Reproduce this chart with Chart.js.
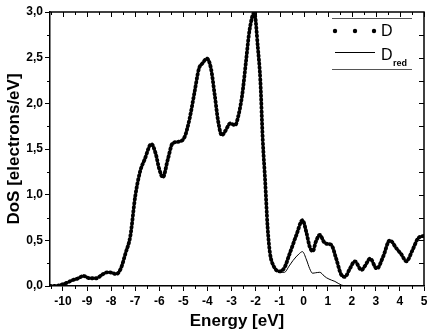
<!DOCTYPE html>
<html>
<head>
<meta charset="utf-8">
<script src="https://cdn.jsdelivr.net/npm/chart.js@4.4.0/dist/chart.umd.min.js"></script>
<style>
  html, body { margin: 0; padding: 0; background: #fff; }
  #wrap { width: 436px; height: 332px; position: relative; }
</style>
</head>
<body>
<div id="wrap"><canvas id="dosChart" width="436" height="332"></canvas></div>
<script>
// ---- data ----
const energyD = [-10.54, -10.2, -10.0, -9.8, -9.6, -9.4, -9.15, -8.9, -8.6, -8.4, -8.15, -7.95, -7.8, -7.6, -7.4, -7.2, -7.0,
  -6.8, -6.6, -6.33, -6.15, -6.0, -5.85, -5.65, -5.45, -5.2, -4.95, -4.75, -4.55, -4.35, -4.2, -4.02, -3.85, -3.7, -3.55,
  -3.4, -3.25, -3.05, -2.85, -2.7, -2.55, -2.4, -2.25, -2.05, -1.9, -1.8, -1.7, -1.6, -1.5, -1.4, -1.25, -1.0,
  -0.8, -0.6, -0.3, -0.05, 0.12, 0.25, 0.38, 0.5, 0.67, 0.85, 1.0, 1.15, 1.35, 1.55, 1.72, 1.9, 2.13, 2.4, 2.55, 2.76,
  3.04, 3.3, 3.58, 3.86, 4.05, 4.27, 4.5, 4.75, 5.0];
const dosD = [0.0, 0.005, 0.02, 0.04, 0.065, 0.08, 0.11, 0.085, 0.085, 0.12, 0.15, 0.145, 0.13, 0.19, 0.36, 0.55, 0.98,
  1.25, 1.39, 1.555, 1.45, 1.28, 1.19, 1.38, 1.56, 1.58, 1.63, 1.82, 2.1, 2.38, 2.44, 2.49, 2.38, 2.1, 1.8,
  1.65, 1.7, 1.78, 1.76, 1.88, 2.1, 2.45, 2.8, 2.99, 2.6, 2.25, 1.6, 1.15, 0.65, 0.36, 0.22, 0.16,
  0.2, 0.34, 0.56, 0.72, 0.58, 0.43, 0.38, 0.48, 0.56, 0.48, 0.46, 0.45, 0.3, 0.13, 0.1, 0.18, 0.27, 0.175, 0.22, 0.3,
  0.19, 0.32, 0.5, 0.41, 0.35, 0.27, 0.38, 0.52, 0.55];

// D_red is the same as D up to -1 eV, then its own tail
const splitIdx = energyD.indexOf(-1.0);
const energyRedTail = [-0.8, -0.6, -0.44, -0.2, -0.05, 0.12, 0.25, 0.37, 0.5, 0.67, 0.85, 0.95, 1.15, 1.3, 1.57, 1.8, 4.0];
const dosRedTail = [0.15, 0.22, 0.28, 0.35, 0.376, 0.285, 0.19, 0.14, 0.145, 0.15, 0.11, 0.09, 0.065, 0.05, 0.01, 0.0, 0.0];
const energyRed = energyD.slice(0, splitIdx + 1).concat(energyRedTail);
const dosRed = dosD.slice(0, splitIdx).concat([0.15]).concat(dosRedTail);

const xTicks = [-10, -9, -8, -7, -6, -5, -4, -3, -2, -1, 0, 1, 2, 3, 4, 5];
const yTicks = [0, 0.5, 1.0, 1.5, 2.0, 2.5, 3.0];

function toPoints(xs, ys) {
  return xs.map(function (x, i) { return { x: x, y: ys[i] }; });
}
function fmt(v) { return v.toFixed(1).replace('.', ','); }

// frame, minor ticks, mirrored ticks and legend
const framePlugin = {
  id: 'frame',
  afterDraw: function (chart) {
    const c = chart.ctx, a = chart.chartArea;
    const xs = chart.scales.x, ys = chart.scales.y;
    c.save();
    c.strokeStyle = '#000';
    c.lineWidth = 1;
    // bottom / left minor ticks (outside)
    for (let v = -10.5; v <= 5; v += 1) {
      const px = Math.round(xs.getPixelForValue(v)) + 0.5;
      c.beginPath(); c.moveTo(px, a.bottom); c.lineTo(px, a.bottom + 3); c.stroke();
    }
    for (let v = 0.25; v < 3; v += 0.5) {
      const py = Math.round(ys.getPixelForValue(v)) + 0.5;
      c.beginPath(); c.moveTo(a.left, py); c.lineTo(a.left - 3, py); c.stroke();
    }
    // top ticks (inside)
    for (let v = -10.5; v <= 5; v += 0.5) {
      const px = Math.round(xs.getPixelForValue(v)) + 0.5;
      const len = Number.isInteger(v) ? 5 : 3;
      c.beginPath(); c.moveTo(px, a.top); c.lineTo(px, a.top + len); c.stroke();
    }
    // right ticks (inside)
    for (let v = 0.25; v < 3; v += 0.25) {
      const py = Math.round(ys.getPixelForValue(v)) + 0.5;
      c.beginPath(); c.moveTo(a.right, py); c.lineTo(a.right - 5, py); c.stroke();
    }
    // top and right border
    c.lineWidth = 1.5;
    c.beginPath();
    c.moveTo(a.left, a.top); c.lineTo(a.right, a.top); c.lineTo(a.right, a.bottom);
    c.stroke();

    // legend
    c.strokeStyle = '#555';
    c.lineWidth = 1;
    c.beginPath(); c.moveTo(332, 18.5); c.lineTo(412, 18.5); c.stroke();
    c.beginPath(); c.moveTo(332, 69.5); c.lineTo(412, 69.5); c.stroke();
    c.fillStyle = '#000';
    [335, 355, 374].forEach(function (px) {
      c.beginPath(); c.arc(px, 31, 2.2, 0, Math.PI * 2); c.fill();
    });
    c.strokeStyle = '#000';
    c.beginPath(); c.moveTo(335, 52.5); c.lineTo(375, 52.5); c.stroke();
    c.font = '16px "Liberation Sans", Arial, sans-serif';
    c.textBaseline = 'alphabetic';
    c.textAlign = 'left';
    c.fillText('D', 381, 36);
    c.fillText('D', 381, 60);
    c.font = 'bold 9px "Liberation Sans", Arial, sans-serif';
    c.fillText('red', 393, 66);
    c.restore();
  }
};

const ctx = document.getElementById('dosChart').getContext('2d');
new Chart(ctx, {
  type: 'line',
  data: {
    datasets: [{
      label: 'D_red',
      data: toPoints(energyRed, dosRed),
      borderColor: '#000',
      borderWidth: 1,
      pointRadius: 0,
      cubicInterpolationMode: 'monotone',
      fill: false
    }, {
      label: 'D',
      data: toPoints(energyD, dosD),
      borderColor: '#000',
      borderWidth: 3.8,
      borderDash: [1, 3],
      borderCapStyle: 'round',
      pointRadius: 0,
      cubicInterpolationMode: 'monotone',
      fill: false
    }]
  },
  options: {
    responsive: false,
    animation: false,
    devicePixelRatio: 1,
    layout: { padding: { top: 12, right: 12, left: 0, bottom: 0 } },
    plugins: { legend: { display: false }, tooltip: { enabled: false } },
    scales: {
      x: {
        type: 'linear',
        min: -10.54,
        max: 5,
        afterBuildTicks: function (scale) { scale.ticks = xTicks.map(function (v) { return { value: v }; }); },
        afterFit: function (scale) { scale.height = 46; },
        ticks: {
          color: '#000',
          padding: 3,
          font: { family: '"Liberation Sans", Arial, sans-serif', size: 12, weight: 'bold' },
          callback: function (v) { return String(v); },
          maxRotation: 0,
          autoSkip: false
        },
        grid: { drawOnChartArea: false, drawTicks: true, tickLength: 5, color: '#000' },
        border: { color: '#000', width: 1.5 },
        title: {
          display: true,
          text: 'Energy [eV]',
          color: '#000',
          font: { family: '"Liberation Sans", Arial, sans-serif', size: 17, weight: 'bold' },
          padding: { top: 8, bottom: 0 }
        }
      },
      y: {
        type: 'linear',
        min: 0,
        max: 3,
        afterBuildTicks: function (scale) { scale.ticks = yTicks.map(function (v) { return { value: v }; }); },
        afterFit: function (scale) { scale.width = 50; },
        ticks: {
          color: '#000',
          padding: 2,
          autoSkip: false,
          font: { family: '"Liberation Sans", Arial, sans-serif', size: 12, weight: 'bold' },
          callback: function (v) { return fmt(v); }
        },
        grid: { drawOnChartArea: false, drawTicks: true, tickLength: 5, color: '#000' },
        border: { color: '#000', width: 1.5 },
        title: {
          display: true,
          text: 'DoS [electrons/eV]',
          color: '#000',
          font: { family: '"Liberation Sans", Arial, sans-serif', size: 17, weight: 'bold' },
          padding: { top: 4, bottom: 0 }
        }
      }
    }
  },
  plugins: [framePlugin]
});
</script>
</body>
</html>
